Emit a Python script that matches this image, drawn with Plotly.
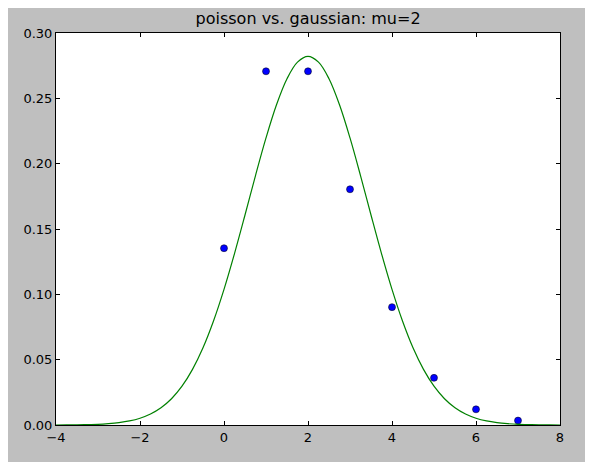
import plotly.graph_objects as go

# poisson pmf, mu=2
k = [0, 1, 2, 3, 4, 5, 6, 7]
poisson = [0.1353, 0.2707, 0.2707, 0.1804, 0.0902, 0.0361, 0.0120, 0.0034]

# gaussian curve, sampled every 0.25 from -4 to 8
gx = [-4 + 0.25 * i for i in range(49)]
gy = [0.0000, 0.0001, 0.0001, 0.0003, 0.0005, 0.0010, 0.0018, 0.0031,
      0.0052, 0.0084, 0.0132, 0.0201, 0.0297, 0.0426, 0.0591, 0.0796,
      0.1038, 0.1312, 0.1607, 0.1909, 0.2197, 0.2451, 0.2650, 0.2777,
      0.2821,
      0.2777, 0.2650, 0.2451, 0.2197, 0.1909, 0.1607, 0.1312, 0.1038,
      0.0796, 0.0591, 0.0426, 0.0297, 0.0201, 0.0132, 0.0084, 0.0052,
      0.0031, 0.0018, 0.0010, 0.0005, 0.0003, 0.0001, 0.0001, 0.0000]

xticks = [-4, -2, 0, 2, 4, 6, 8]
yticks = [0.00, 0.05, 0.10, 0.15, 0.20, 0.25, 0.30]

fig = go.Figure()
fig.add_trace(go.Scatter(x=k, y=poisson, mode="markers",
                         marker=dict(color="#0000ff", size=7, line=dict(width=0.5, color="#000000"))))
fig.add_trace(go.Scatter(x=gx, y=gy, mode="lines", line=dict(color="#008000", width=1.2, shape="spline")))

axis = dict(showgrid=False, zeroline=False, showline=True, linecolor="black", linewidth=1,
            mirror="ticks", ticks="inside", ticklen=4, tickcolor="black",
            tickfont=dict(family="DejaVu Sans", size=13, color="black"))
fig.update_xaxes(range=[-4, 8], tickvals=xticks, **axis)
fig.update_yaxes(range=[0, 0.30], tickvals=yticks, tickformat=".2f", **axis)

# page body has an 8px margin, so margins are shifted to land the axes where the reference has them
fig.update_layout(width=593, height=462, margin=dict(l=48, r=41, t=25, b=45),
                  paper_bgcolor="#bfbfbf", plot_bgcolor="white", showlegend=False,
                  title=dict(text="poisson vs. gaussian: mu=2", x=0.506, xanchor="center", y=0.978, yanchor="middle",
                             font=dict(family="DejaVu Sans", size=16, color="black")))
fig.write_html("out.html")
